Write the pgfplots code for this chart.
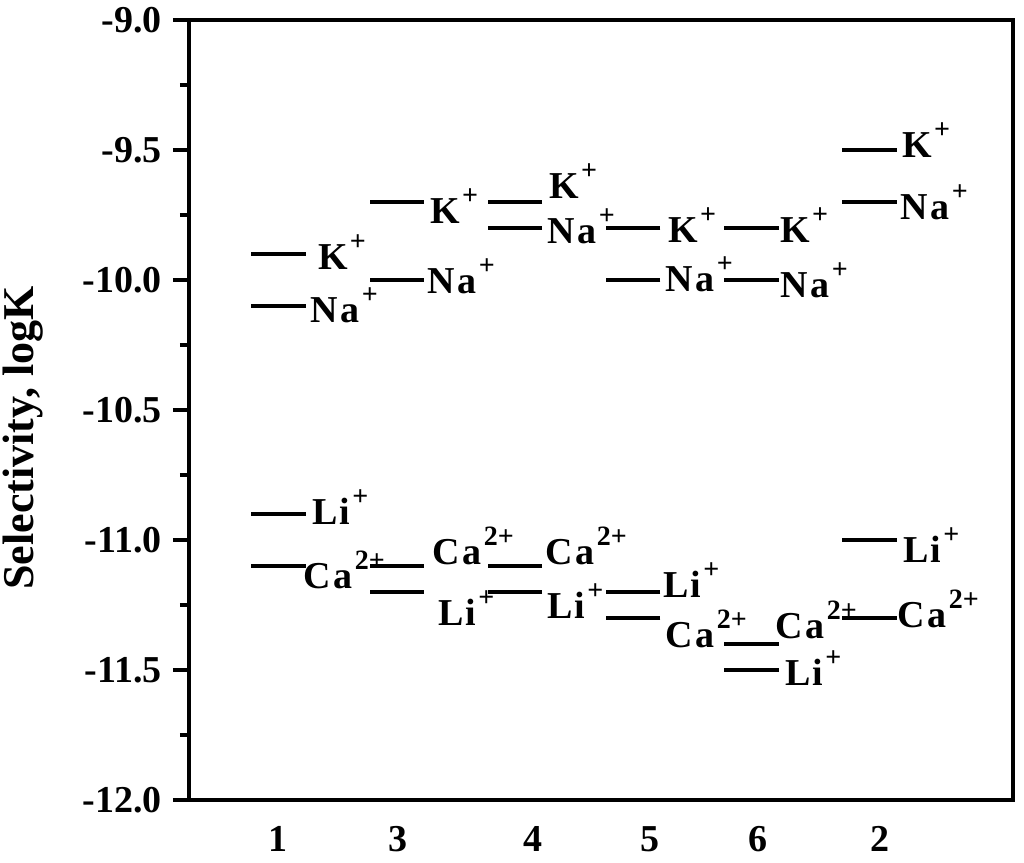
\documentclass[border=0pt]{standalone}
\usepackage{fontspec}
\setmainfont{Liberation Serif}
\usepackage{pgfplots}
\usepackage{pgfplotstable}
\pgfplotsset{compat=1.18}

\newcommand{\ion}[2]{\bfseries #1\kern1pt\raisebox{9.5pt}{\fontsize{14}{14}\selectfont\bfseries #2}}

\pgfplotstableread{
x y
0 -9.9
1 -9.7
2 -9.7
3 -9.8
4 -9.8
5 -9.5
}\Kdata
\pgfplotstableread{
x y
0 -10.1
1 -10.0
2 -9.8
3 -10.0
4 -10.0
5 -9.7
}\Nadata
\pgfplotstableread{
x y
0 -10.9
1 -11.2
2 -11.2
3 -11.2
4 -11.5
5 -11.0
}\Lidata
\pgfplotstableread{
x y
0 -11.1
1 -11.1
2 -11.1
3 -11.3
4 -11.4
5 -11.3
}\Cadata

\begin{document}
\begin{tikzpicture}
\begin{axis}[
  name=ax,
  scale only axis,
  width=412pt, height=390pt,
  xmin=-0.757, xmax=6.213,
  ymin=-12, ymax=-9,
  axis line style={line width=1.6pt},
  tick align=outside,
  ytick pos=left,
  ytick={-12,-11.5,-11,-10.5,-10,-9.5,-9},
  yticklabels={-12.0,-11.5,-11.0,-10.5,-10.0,-9.5,-9.0},
  minor y tick num=1,
  major tick length=8pt,
  minor tick length=4.5pt,
  every tick/.style={line width=1.6pt, black},
  yticklabel style={font=\fontsize{19}{19}\selectfont\bfseries, inner sep=0pt, xshift=-5.5pt},
  xtick={0,1.015,2.15,3.14,4.06,5.09},
  xticklabels={1,3,4,5,6,2},
  xtick style={draw=none},
  xticklabel style={font=\fontsize{19}{19}\selectfont\bfseries, inner sep=0pt, anchor=north, yshift=-5pt},
  ylabel={\bfseries Selectivity, logK},
  ylabel style={font=\fontsize{22}{22}\selectfont, at={(rel axis cs:-0.2015,0.4641)}, anchor=center, rotate=0},
  clip=false,
]
\addplot[only marks, mark=-, mark size=13.6pt, mark options={line width=2pt, black}] table[x=x,y=y] {\Kdata};
\addplot[only marks, mark=-, mark size=13.6pt, mark options={line width=2pt, black}] table[x=x,y=y] {\Nadata};
\addplot[only marks, mark=-, mark size=13.6pt, mark options={line width=2pt, black}] table[x=x,y=y] {\Lidata};
\addplot[only marks, mark=-, mark size=13.6pt, mark options={line width=2pt, black}] table[x=x,y=y] {\Cadata};

\tikzset{lb/.style={anchor=base west, inner sep=0pt, font=\fontsize{19}{19}\selectfont}}
% category 1
\node[lb] at (axis cs:0.334,-9.958) {\ion{K}{+}};
\node[lb] at (axis cs:0.266,-10.165) {\ion{N\kern1.5pt a}{+}};
\node[lb] at (axis cs:0.283,-10.942) {\ion{L\kern1pt i}{+}};
\node[lb] at (axis cs:0.207,-11.185) {\ion{C\kern1.5pt a}{2+}};
% category 3
\node[lb] at (axis cs:1.282,-9.781) {\ion{K}{+}};
\node[lb] at (axis cs:1.256,-10.050) {\ion{N\kern1.5pt a}{+}};
\node[lb] at (axis cs:1.299,-11.096) {\ion{C\kern1.5pt a}{2+}};
\node[lb] at (axis cs:1.350,-11.327) {\ion{L\kern1pt i}{+}};
% category 4
\node[lb] at (axis cs:2.290,-9.685) {\ion{K}{+}};
\node[lb] at (axis cs:2.272,-9.858) {\ion{N\kern1.5pt a}{+}};
\node[lb] at (axis cs:2.255,-11.096) {\ion{C\kern1.5pt a}{2+}};
\node[lb] at (axis cs:2.272,-11.300) {\ion{L\kern1pt i}{+}};
% category 5
\node[lb] at (axis cs:3.296,-9.854) {\ion{K}{+}};
\node[lb] at (axis cs:3.270,-10.046) {\ion{N\kern1.5pt a}{+}};
\node[lb] at (axis cs:3.253,-11.223) {\ion{L\kern1pt i}{+}};
\node[lb] at (axis cs:3.270,-11.412) {\ion{C\kern1.5pt a}{2+}};
% category 6
\node[lb] at (axis cs:4.243,-9.854) {\ion{K}{+}};
\node[lb] at (axis cs:4.243,-10.069) {\ion{N\kern1.5pt a}{+}};
\node[lb] at (axis cs:4.201,-11.377) {\ion{C\kern1.5pt a}{2+}};
\node[lb] at (axis cs:4.285,-11.558) {\ion{L\kern1pt i}{+}};
% category 2
\node[lb] at (axis cs:5.275,-9.527) {\ion{K}{+}};
\node[lb] at (axis cs:5.258,-9.769) {\ion{N\kern1.5pt a}{+}};
\node[lb] at (axis cs:5.284,-11.085) {\ion{L\kern1pt i}{+}};
\node[lb] at (axis cs:5.233,-11.338) {\ion{C\kern1.5pt a}{2+}};
\end{axis}
\pgfresetboundingbox
\path[use as bounding box] ([shift={(-94.5pt,-31.5pt)}]ax.south west) rectangle ([shift={(417.5pt,400pt)}]ax.south west);
\end{tikzpicture}
\end{document}
